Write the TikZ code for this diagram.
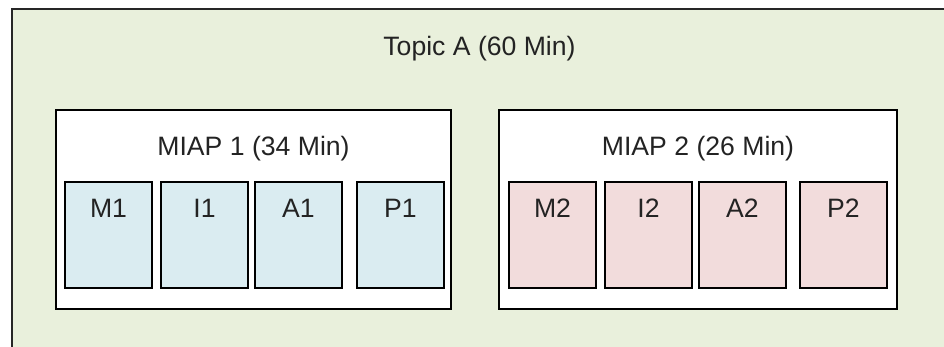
\documentclass[tikz,border=0pt]{standalone}
\usepackage{fontspec}
\setmainfont{Liberation Sans}
\definecolor{outerfill}{RGB}{233,240,220}
\definecolor{bluefill}{RGB}{218,236,241}
\definecolor{pinkfill}{RGB}{242,220,220}
\definecolor{txtgray}{RGB}{35,35,35}
\begin{document}
\begin{tikzpicture}[x=1pt,y=-1pt,
  font=\fontsize{26.6}{32}\selectfont,
  anybox/.style={draw=black, line width=2pt, anchor=north west, inner sep=0pt},
  outerbox/.style={anybox, draw=black!85, fill=outerfill, minimum width=935pt, minimum height=345pt},
  groupbox/.style={anybox, fill=white, minimum height=199pt},
  smallbox/.style={anybox, minimum width=87pt, minimum height=106pt},
  bluebox/.style={smallbox, fill=bluefill},
  pinkbox/.style={smallbox, fill=pinkfill},
  lbl/.style={anchor=base, text=txtgray, inner sep=0pt}]
\useasboundingbox (0,0) rectangle (944,347);
\clip (0,0) rectangle (944,347);
\node[outerbox] (topic) at (11,8) {};
\node[lbl] (topict) at ([yshift=-48pt]topic.north) {Topic A (60 Min)};
\node[groupbox, minimum width=395pt] (miap1) at (55,109) {};
\node[groupbox, minimum width=398pt] (miap2) at (498,109) {};
\node[lbl] (miap1t) at ([yshift=-47pt]miap1.north) {MIAP 1 (34 Min)};
\node[lbl] (miap2t) at ([yshift=-47pt]miap2.north) {MIAP 2 (26 Min)};
\node[bluebox] (m1) at (64,181) {};
\node[bluebox] (i1) at (160,181) {};
\node[bluebox] (a1) at (254,181) {};
\node[bluebox] (p1) at (356,181) {};
\node[pinkbox] (m2) at (508,181) {};
\node[pinkbox] (i2) at (604,181) {};
\node[pinkbox] (a2) at (698,181) {};
\node[pinkbox] (p2) at (799,181) {};
\foreach \n/\t in {m1/M1,i1/I1,a1/A1,p1/P1,m2/M2,i2/I2,a2/A2,p2/P2}
  \node[lbl] (\n t) at ([yshift=-37pt]\n.north) {\t};
\end{tikzpicture}
\end{document}
